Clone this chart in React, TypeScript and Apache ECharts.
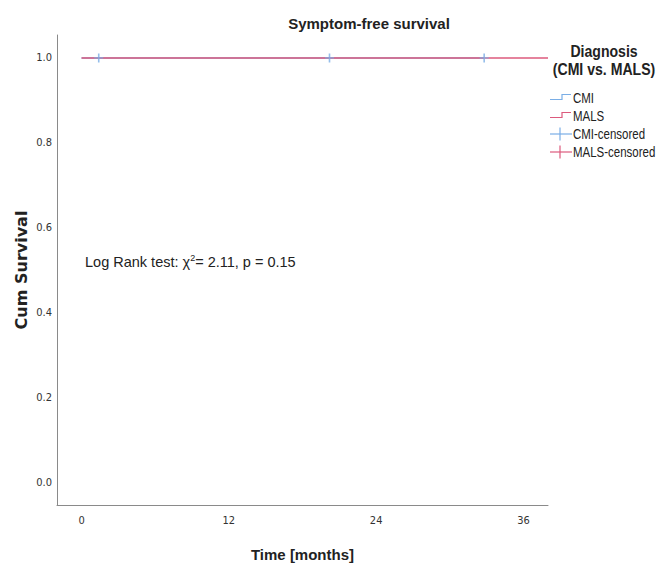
import React, { useEffect, useRef } from "react";
import * as echarts from "echarts";

const xTicks = [0, 12, 24, 36];
const yTicks = [0, 0.2, 0.4, 0.6, 0.8, 1.0];
const cmiCurve: [number, number][] = [[0, 1], [32.8, 1]];
const malsCurve: [number, number][] = [[0, 1], [38, 1]];
const cmiCensored: [number, number][] = [[1.4, 1], [20.2, 1], [32.8, 1]];
const malsCensored: [number, number][] = [];
const legendNames = ["CMI", "MALS", "CMI-censored", "MALS-censored"];
const chartTitle = "Symptom-free survival";
const legendTitle = ["Diagnosis", "(CMI vs. MALS)"];
const xName = "Time [months]";
const yName = "Cum Survival";

const BLUE = "#7aaee6";
const PINK = "#dc5a7d";
const FONT = "'Liberation Sans', Arial, sans-serif";
const TICKFONT = "'DejaVu Sans Condensed', 'Liberation Sans', sans-serif";
const CROSS = "path://M0,4.4 L10,4.4 L10,5.6 L0,5.6 Z M4.1,0 L5.9,0 L5.9,10 L4.1,10 Z";

export default function App() {
  const ref = useRef<HTMLDivElement>(null);
  useEffect(() => {
    if (!ref.current) return;
    const chart = echarts.init(ref.current, null, { renderer: "svg" });
    const legendColors = [BLUE, PINK, BLUE, PINK];
    const legendY = [98, 116, 134, 152];
    const legendGraphics: any[] = [];
    legendNames.forEach((n, i) => {
      const y = legendY[i];
      const c = legendColors[i];
      if (i < 2) {
        legendGraphics.push({
          type: "polyline",
          shape: { points: [[550, y + 1.5], [562, y + 1.5], [562, y - 3.5], [571, y - 3.5]] },
          style: { stroke: c, lineWidth: 1.2, fill: null },
        });
      } else {
        legendGraphics.push({
          type: "line",
          shape: { x1: 550, y1: y, x2: 572, y2: y },
          style: { stroke: c, lineWidth: 1.2 },
        });
        legendGraphics.push({
          type: "line",
          shape: { x1: 560, y1: y - 6.5, x2: 560, y2: y + 6.5 },
          style: { stroke: c, lineWidth: 1.2 },
        });
      }
      legendGraphics.push({
        type: "text",
        x: 573,
        y,
        scaleX: 0.82,
        style: { text: n, fontSize: 14, fontFamily: FONT, fill: "#222", verticalAlign: "middle", align: "left" },
      });
    });

    chart.setOption({
      animation: false,
      backgroundColor: "#fff",
      title: {
        text: chartTitle,
        left: 364,
        top: 11,
        textAlign: "center",
        textStyle: { fontSize: 15, fontWeight: "bold", fontFamily: FONT, color: "#222" },
      },
      grid: { left: 57, right: 111, top: 35, bottom: 59 },
      xAxis: {
        type: "value",
        min: -2,
        max: 38,
        name: xName,
        nameLocation: "middle",
        nameGap: 42,
        nameTextStyle: { fontSize: 15, fontWeight: "bold", fontFamily: FONT, color: "#222" },
        axisLine: { show: true, onZero: false, lineStyle: { color: "#8a8a8a", width: 1 } },
        axisTick: { show: false },
        splitLine: { show: false },
        axisLabel: { customValues: xTicks, fontSize: 11, fontFamily: TICKFONT, color: "#333", margin: 10 },
      },
      yAxis: {
        type: "value",
        min: -0.054,
        max: 1.054,
        name: yName,
        nameLocation: "middle",
        nameGap: 28,
        nameMoveOverlap: false,
        nameTextStyle: { fontSize: 16, fontWeight: "bold", fontFamily: "'DejaVu Sans', sans-serif", color: "#222" },
        axisLine: { show: true, onZero: false, lineStyle: { color: "#8a8a8a", width: 1 } },
        axisTick: { show: false },
        splitLine: { show: false },
        axisLabel: {
          customValues: yTicks,
          formatter: (v: number) => v.toFixed(1),
          fontSize: 11,
          fontFamily: TICKFONT,
          color: "#333",
          margin: 5,
        },
      },
      series: [
        { name: legendNames[0], type: "line", step: "end", data: cmiCurve, showSymbol: false, lineStyle: { color: BLUE, width: 1.5 }, z: 2 },
        { name: legendNames[1], type: "line", step: "end", data: malsCurve, showSymbol: false, lineStyle: { color: PINK, width: 1.5 }, z: 3 },
        { name: legendNames[2], type: "scatter", data: cmiCensored, symbol: CROSS, symbolSize: [9, 9], itemStyle: { color: BLUE }, z: 5 },
        { name: legendNames[3], type: "scatter", data: malsCensored, symbol: CROSS, symbolSize: [9, 9], itemStyle: { color: PINK }, z: 4 },
      ],
      graphic: [
        {
          type: "text",
          x: 85,
          y: 262,
          style: {
            text: "Log Rank test: χ{sup|2}= 2.11, p = 0.15",
            fontSize: 14.5,
            fontFamily: FONT,
            fill: "#222",
            verticalAlign: "middle",
            rich: { sup: { fontSize: 9, verticalAlign: "top", padding: [0, 0, 8, 0], fontFamily: FONT, fill: "#222" } },
          },
        },
        {
          type: "text",
          x: 604,
          y: 51,
          scaleX: 0.88,
          style: { text: legendTitle[0], fontSize: 16, fontWeight: "bold", fontFamily: FONT, fill: "#222", align: "center", verticalAlign: "middle" },
        },
        {
          type: "text",
          x: 604,
          y: 69,
          scaleX: 0.88,
          style: { text: legendTitle[1], fontSize: 16, fontWeight: "bold", fontFamily: FONT, fill: "#222", align: "center", verticalAlign: "middle" },
        },
        ...legendGraphics,
      ],
    });
    return () => chart.dispose();
  }, []);
  return <div ref={ref} style={{ position: "fixed", left: 0, top: 0, width: 659, height: 567 }} />;
}
